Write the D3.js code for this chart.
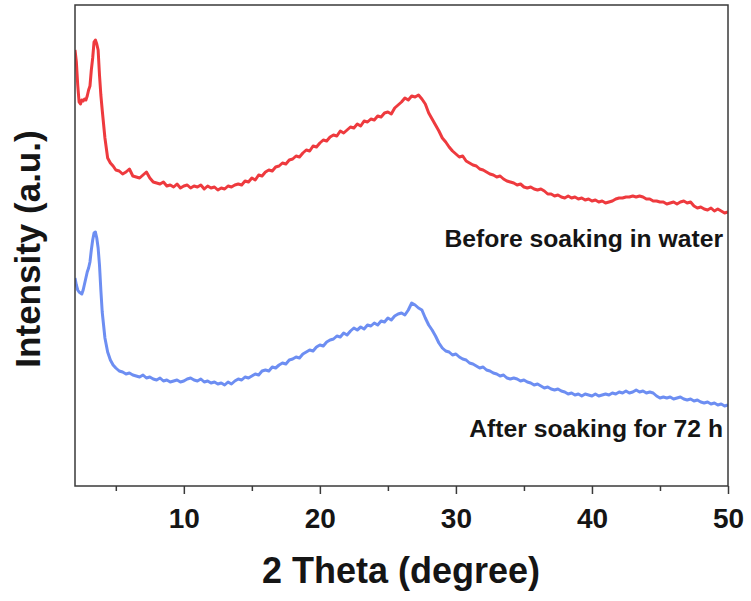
<!DOCTYPE html>
<html>
<head>
<meta charset="utf-8">
<script src="https://cdn.jsdelivr.net/npm/d3@7"></script>
<style>
  body { margin: 0; background: #fff; }
  text { font-family: "Liberation Sans", Arial, sans-serif; font-weight: bold; fill: #151515; }
</style>
</head>
<body>
<svg width="751" height="601"></svg>
<script>
// 2 theta (degree) sample positions
var twoTheta = [
  2.0,2.1,2.2,2.3,2.4,2.5,2.6,2.7,2.8,2.9,3.0,3.1,3.2,3.3,3.4,3.5,3.6,3.7,3.8,3.9,4.0,
  4.2,4.4,4.6,4.8,5.0,
  5.25,5.5,5.75,6, 6.25,6.5,6.75,7, 7.25,7.5,7.75,8, 8.25,8.5,8.75,9, 9.25,9.5,9.75,10,
  10.25,10.5,10.75,11, 11.25,11.5,11.75,12, 12.25,12.5,12.75,13, 13.25,13.5,13.75,14, 14.25,14.5,14.75,15,
  15.25,15.5,15.75,16, 16.25,16.5,16.75,17, 17.25,17.5,17.75,18, 18.25,18.5,18.75,19, 19.25,19.5,19.75,20,
  20.25,20.5,20.75,21, 21.25,21.5,21.75,22, 22.25,22.5,22.75,23, 23.25,23.5,23.75,24, 24.25,24.5,24.75,25,
  25.25,25.5,25.75,26, 26.25,26.5,26.75,27, 27.25,27.5,27.75,28, 28.25,28.5,28.75,29, 29.25,29.5,29.75,30,
  30.25,30.5,30.75,31, 31.25,31.5,31.75,32, 32.25,32.5,32.75,33, 33.25,33.5,33.75,34, 34.25,34.5,34.75,35,
  35.25,35.5,35.75,36, 36.25,36.5,36.75,37, 37.25,37.5,37.75,38, 38.25,38.5,38.75,39, 39.25,39.5,39.75,40,
  40.25,40.5,40.75,41, 41.25,41.5,41.75,42, 42.25,42.5,42.75,43, 43.25,43.5,43.75,44, 44.25,44.5,44.75,45,
  45.25,45.5,45.75,46, 46.25,46.5,46.75,47, 47.25,47.5,47.75,48, 48.25,48.5,48.75,49, 49.25,49.5,49.75,50
];

// intensity (a.u.) before soaking in water
var beforeSoak = [
  450,438,415,398,396,400,399,401,400,404,410,414,430,442,458,460,456,450,425,405,390,
  362,342,337,334,330,
  329,326,328,331, 324,323,322,325, 328,322,318,317, 316,318,314,315, 313,316,312,314,
  315,312,314,313, 315,311,314,312, 313,310,312,311, 314,313,315,316, 315,319,318,322,
  320,325,324,328, 330,329,333,334, 337,336,340,341, 344,343,347,350, 349,354,353,357,
  360,359,363,365, 364,369,367,370, 373,372,376,374, 379,378,381,380, 384,383,387,388,
  386,392,395,398, 402,400,404,403, 405,401,396,387, 381,375,369,362, 358,353,349,346,
  343,344,339,337, 335,334,331,330, 328,326,325,323, 324,321,319,318, 317,315,316,313,
  312,313,311,310, 311,309,306,306, 304,305,303,302, 304,302,303,301, 302,300,301,299,
  300,298,299,297, 298,299,301,302, 302,303,303,304, 303,304,303,301, 301,299,299,298,
  298,296,297,298, 296,298,299,297, 298,294,292,293, 291,290,292,289, 291,289,287,288
];

// intensity (a.u.) after soaking for 72 h
var afterSoak = [
  222,215,210,208,207,206,210,216,222,228,232,238,250,260,267,268,262,252,235,210,188,
  162,148,140,135,132,
  129,128,126,127, 125,124,123,125, 122,123,121,120, 122,119,120,118, 119,120,118,119,
  121,122,120,119, 121,118,119,117, 118,116,117,115, 118,116,119,121, 120,123,122,124,
  126,125,129,130, 129,133,132,135, 137,136,140,141, 143,142,146,148, 150,149,153,155,
  154,158,160,161, 164,163,167,165, 169,172,170,173, 171,175,174,177, 175,179,178,182,
  180,184,186,187, 185,190,197,195, 192,190,182,175, 170,164,157,152, 149,148,145,146,
  143,141,140,137, 136,134,132,133, 130,129,127,126, 124,125,122,121, 122,121,119,120,
  118,117,115,116, 114,112,113,111, 110,111,109,108, 106,107,105,106, 104,106,105,104,
  106,104,105,106, 105,107,106,108, 107,109,107,108, 110,108,109,107, 108,107,104,102,
  103,102,103,101, 102,103,101,100, 101,99,100,98, 97,98,96,97, 95,96,94,95
];

var xMajorTicks = [10, 20, 30, 40, 50];
var xMinorTicks = [5, 15, 25, 35, 45];
var seriesNames = ["Before soaking in water", "After soaking for 72 h"];
var seriesColors = ["#ee3a3e", "#6d8ef2"];

var svg = d3.select("svg");

var margin = {left: 75, right: 23, top: 5, bottom: 115};
var width = +svg.attr("width"),
    height = +svg.attr("height");

var x = d3.scaleLinear()
    .domain([2, 50])
    .range([margin.left, width - margin.right]);

var y = d3.scaleLinear()
    .domain([14, 495])
    .range([height - margin.bottom, margin.top]);

svg.append("defs").append("clipPath")
    .attr("id", "plotclip")
  .append("rect")
    .attr("x", x(2))
    .attr("y", y(495))
    .attr("width", x(50) - x(2))
    .attr("height", y(14) - y(495));

var line = d3.line()
    .x(function(d, i) { return x(twoTheta[i]); })
    .y(function(d) { return y(d); });

var plot = svg.append("g").attr("clip-path", "url(#plotclip)");

[beforeSoak, afterSoak].forEach(function(series, k) {
  plot.append("path")
      .datum(series)
      .attr("fill", "none")
      .attr("stroke", seriesColors[k])
      .attr("stroke-width", 3)
      .attr("stroke-linejoin", "round")
      .attr("d", line);
});

// frame
svg.append("rect")
    .attr("x", x(2))
    .attr("y", y(495))
    .attr("width", x(50) - x(2))
    .attr("height", y(14) - y(495))
    .attr("fill", "none")
    .attr("stroke", "#3a3a3a")
    .attr("stroke-width", 1.5);

var xAxis = d3.axisBottom(x)
    .tickValues(xMajorTicks)
    .tickSize(8)
    .tickPadding(14)
    .tickFormat(d3.format("d"));

var gx = svg.append("g")
    .attr("transform", "translate(0," + y(14) + ")")
    .call(xAxis);
gx.select(".domain").remove();
gx.selectAll("line").attr("stroke", "#3a3a3a").attr("stroke-width", 1.5);
gx.selectAll("text")
    .attr("font-size", 28)
    .attr("fill", "#151515");
gx.attr("font-family", null).attr("font-size", null);

var gm = svg.append("g")
    .attr("transform", "translate(0," + y(14) + ")")
    .call(d3.axisBottom(x).tickValues(xMinorTicks).tickSize(5).tickFormat(""));
gm.select(".domain").remove();
gm.selectAll("line").attr("stroke", "#3a3a3a").attr("stroke-width", 1.5);

// axis titles
svg.append("text")
    .attr("x", 401)
    .attr("y", 583)
    .attr("text-anchor", "middle")
    .attr("font-size", 36)
    .text("2 Theta (degree)");

svg.append("text")
    .attr("transform", "translate(40,249) rotate(-90)")
    .attr("text-anchor", "middle")
    .attr("font-size", 35)
    .text("Intensity (a.u.)");

// curve labels
svg.append("text")
    .attr("x", 723)
    .attr("y", 247)
    .attr("text-anchor", "end")
    .attr("font-size", 24.7)
    .text(seriesNames[0]);

svg.append("text")
    .attr("x", 723)
    .attr("y", 437)
    .attr("text-anchor", "end")
    .attr("font-size", 24.7)
    .text(seriesNames[1]);
</script>
</body>
</html>
